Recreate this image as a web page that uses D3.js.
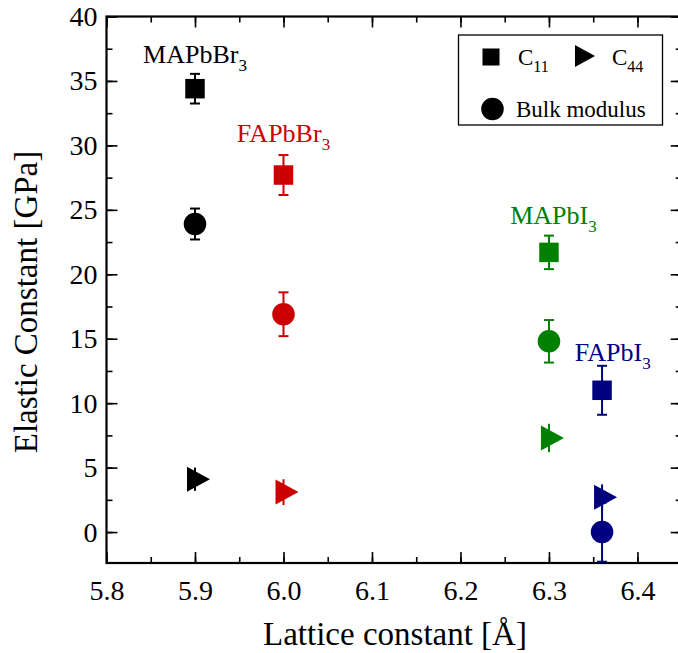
<!DOCTYPE html>
<html><head><meta charset="utf-8">
<script src="https://cdn.jsdelivr.net/npm/d3@7"></script>
<style>body{margin:0;background:#fff;overflow:hidden}svg{display:block}text{font-family:"Liberation Serif","Times New Roman",serif}</style>
</head><body>
<script>
const compounds = ["MAPbBr3","FAPbBr3","MAPbI3","FAPbI3"];
const lattice = [5.9, 6.0, 6.3, 6.36];
const colors = ["#000000","#cc0000","#008000","#000080"];
const c11 = [34.4, 27.7, 21.7, 11.0];
const c11Err = [1.15, 1.55, 1.3, 1.9];
const bulk = [23.9, 16.9, 14.8, 0.0];
const bulkErr = [1.2, 1.7, 1.65, 2.3];
const c44 = [4.1, 3.1, 7.3, 2.7];
const c44Err = [0.9, 1.0, 1.1, 1.0];
const xTicks = [5.8, 5.9, 6.0, 6.1, 6.2, 6.3, 6.4];
const yTicks = [0, 5, 10, 15, 20, 25, 30, 35, 40];
const labelX = [5.9, 6.0, 6.305, 6.372];
const labelY = [36.4, 30.3, 23.9, 13.3];

const W = 678, H = 653;
const m = {l: 106.5, r: 681.7, t: 16.5, b: 563};
const svg = d3.select("body").append("svg").attr("width", W).attr("height", H);
const x = d3.scaleLinear().domain([5.8, 6.45]).range([m.l, m.r]);
const y = d3.scaleLinear().domain([-2.4, 40]).range([m.b, m.t]);

const xMinor = d3.range(5.8, 6.451, 0.05).map(v => +v.toFixed(2));
const yMinor = d3.range(-2.5, 40.01, 2.5).filter(v => v >= -2.4);
function axisGroup(axis, tr) { return svg.append("g").attr("transform", tr).call(axis); }
const style = g => { g.select(".domain").remove(); g.selectAll("line").attr("stroke", "#000").attr("stroke-width", 1.6); };
axisGroup(d3.axisBottom(x).tickValues(xMinor).tickSize(-6).tickFormat(""), `translate(0,${m.b})`).call(style);
axisGroup(d3.axisTop(x).tickValues(xMinor).tickSize(-6).tickFormat(""), `translate(0,${m.t})`).call(style);
axisGroup(d3.axisLeft(y).tickValues(yMinor).tickSize(-6).tickFormat(""), `translate(${m.l},0)`).call(style);
axisGroup(d3.axisRight(y).tickValues(yMinor).tickSize(-6).tickFormat(""), `translate(${m.r},0)`).call(style);
axisGroup(d3.axisBottom(x).tickValues(xTicks).tickSize(-11).tickPadding(17).tickFormat(d3.format(".1f")), `translate(0,${m.b})`).call(style);
axisGroup(d3.axisTop(x).tickValues(xTicks).tickSize(-11).tickFormat(""), `translate(0,${m.t})`).call(style);
axisGroup(d3.axisLeft(y).tickValues(yTicks).tickSize(-11).tickPadding(9).tickFormat(d3.format("d")), `translate(${m.l},0)`).call(style);
axisGroup(d3.axisRight(y).tickValues(yTicks).tickSize(-11).tickFormat(""), `translate(${m.r},0)`).call(style);
svg.selectAll(".tick text").attr("font-size", 28).attr("fill", "#000");
svg.append("rect").attr("x", m.l).attr("y", m.t).attr("width", m.r - m.l).attr("height", m.b - m.t)
  .attr("fill", "none").attr("stroke", "#000").attr("stroke-width", 2.2);

svg.append("text").attr("x", 395).attr("y", 645).attr("text-anchor", "middle")
  .attr("font-size", 33).text("Lattice constant [Å]");
svg.append("text").attr("transform", `translate(37,302) rotate(-90)`).attr("text-anchor", "middle")
  .attr("font-size", 33).text("Elastic Constant [GPa]");

const plot = svg.append("g");
function errBar(xv, v, e, col, cap) {
  plot.append("line").attr("x1", x(xv)).attr("x2", x(xv)).attr("y1", y(v - e)).attr("y2", y(v + e))
    .attr("stroke", col).attr("stroke-width", 2);
  if (cap) [v - e, v + e].forEach(t => plot.append("line").attr("x1", x(xv) - 5).attr("x2", x(xv) + 5)
    .attr("y1", y(t)).attr("y2", y(t)).attr("stroke", col).attr("stroke-width", 2));
}
const sq = d3.symbol().type(d3.symbolSquare).size(380);
const ci = d3.symbol().type(d3.symbolCircle).size(400);
const tri = "M-8,-12.5L15,0L-8,12.5Z";
compounds.forEach((c, i) => {
  const col = colors[i], xv = lattice[i];
  errBar(xv, c44[i], c44Err[i], col, false);
  plot.append("path").attr("d", tri).attr("transform", `translate(${x(xv)},${y(c44[i])})`).attr("fill", col);
  errBar(xv, bulk[i], bulkErr[i], col, true);
  plot.append("path").attr("d", ci()).attr("transform", `translate(${x(xv)},${y(bulk[i])})`).attr("fill", col);
  errBar(xv, c11[i], c11Err[i], col, true);
  plot.append("path").attr("d", sq()).attr("transform", `translate(${x(xv)},${y(c11[i])})`).attr("fill", col);
  const t = plot.append("text").attr("x", x(labelX[i])).attr("y", y(labelY[i]))
    .attr("text-anchor", "middle").attr("fill", col).attr("font-size", 26);
  t.append("tspan").text(c.slice(0, -1));
  t.append("tspan").attr("font-size", 17).attr("dy", 8).text("3");
});

const lg = svg.append("g");
lg.append("rect").attr("x", 458.5).attr("y", 35).attr("width", 204).attr("height", 90)
  .attr("fill", "#fff").attr("stroke", "#000").attr("stroke-width", 1.3);
lg.append("path").attr("d", d3.symbol().type(d3.symbolSquare).size(290)()).attr("transform", "translate(491,57)");
lg.append("path").attr("d", "M-10,-11L10,0L-10,11Z").attr("transform", "translate(585,56)");
lg.append("path").attr("d", ci()).attr("transform", "translate(492.5,109)");
const t1 = lg.append("text").attr("x", 518).attr("y", 65).attr("font-size", 23);
t1.append("tspan").text("C"); t1.append("tspan").attr("font-size", 16).attr("dy", 7).text("11");
const t2 = lg.append("text").attr("x", 612).attr("y", 65).attr("font-size", 23);
t2.append("tspan").text("C"); t2.append("tspan").attr("font-size", 16).attr("dy", 7).text("44");
lg.append("text").attr("x", 516).attr("y", 117).attr("font-size", 23).text("Bulk modulus");
</script>
</body></html>
